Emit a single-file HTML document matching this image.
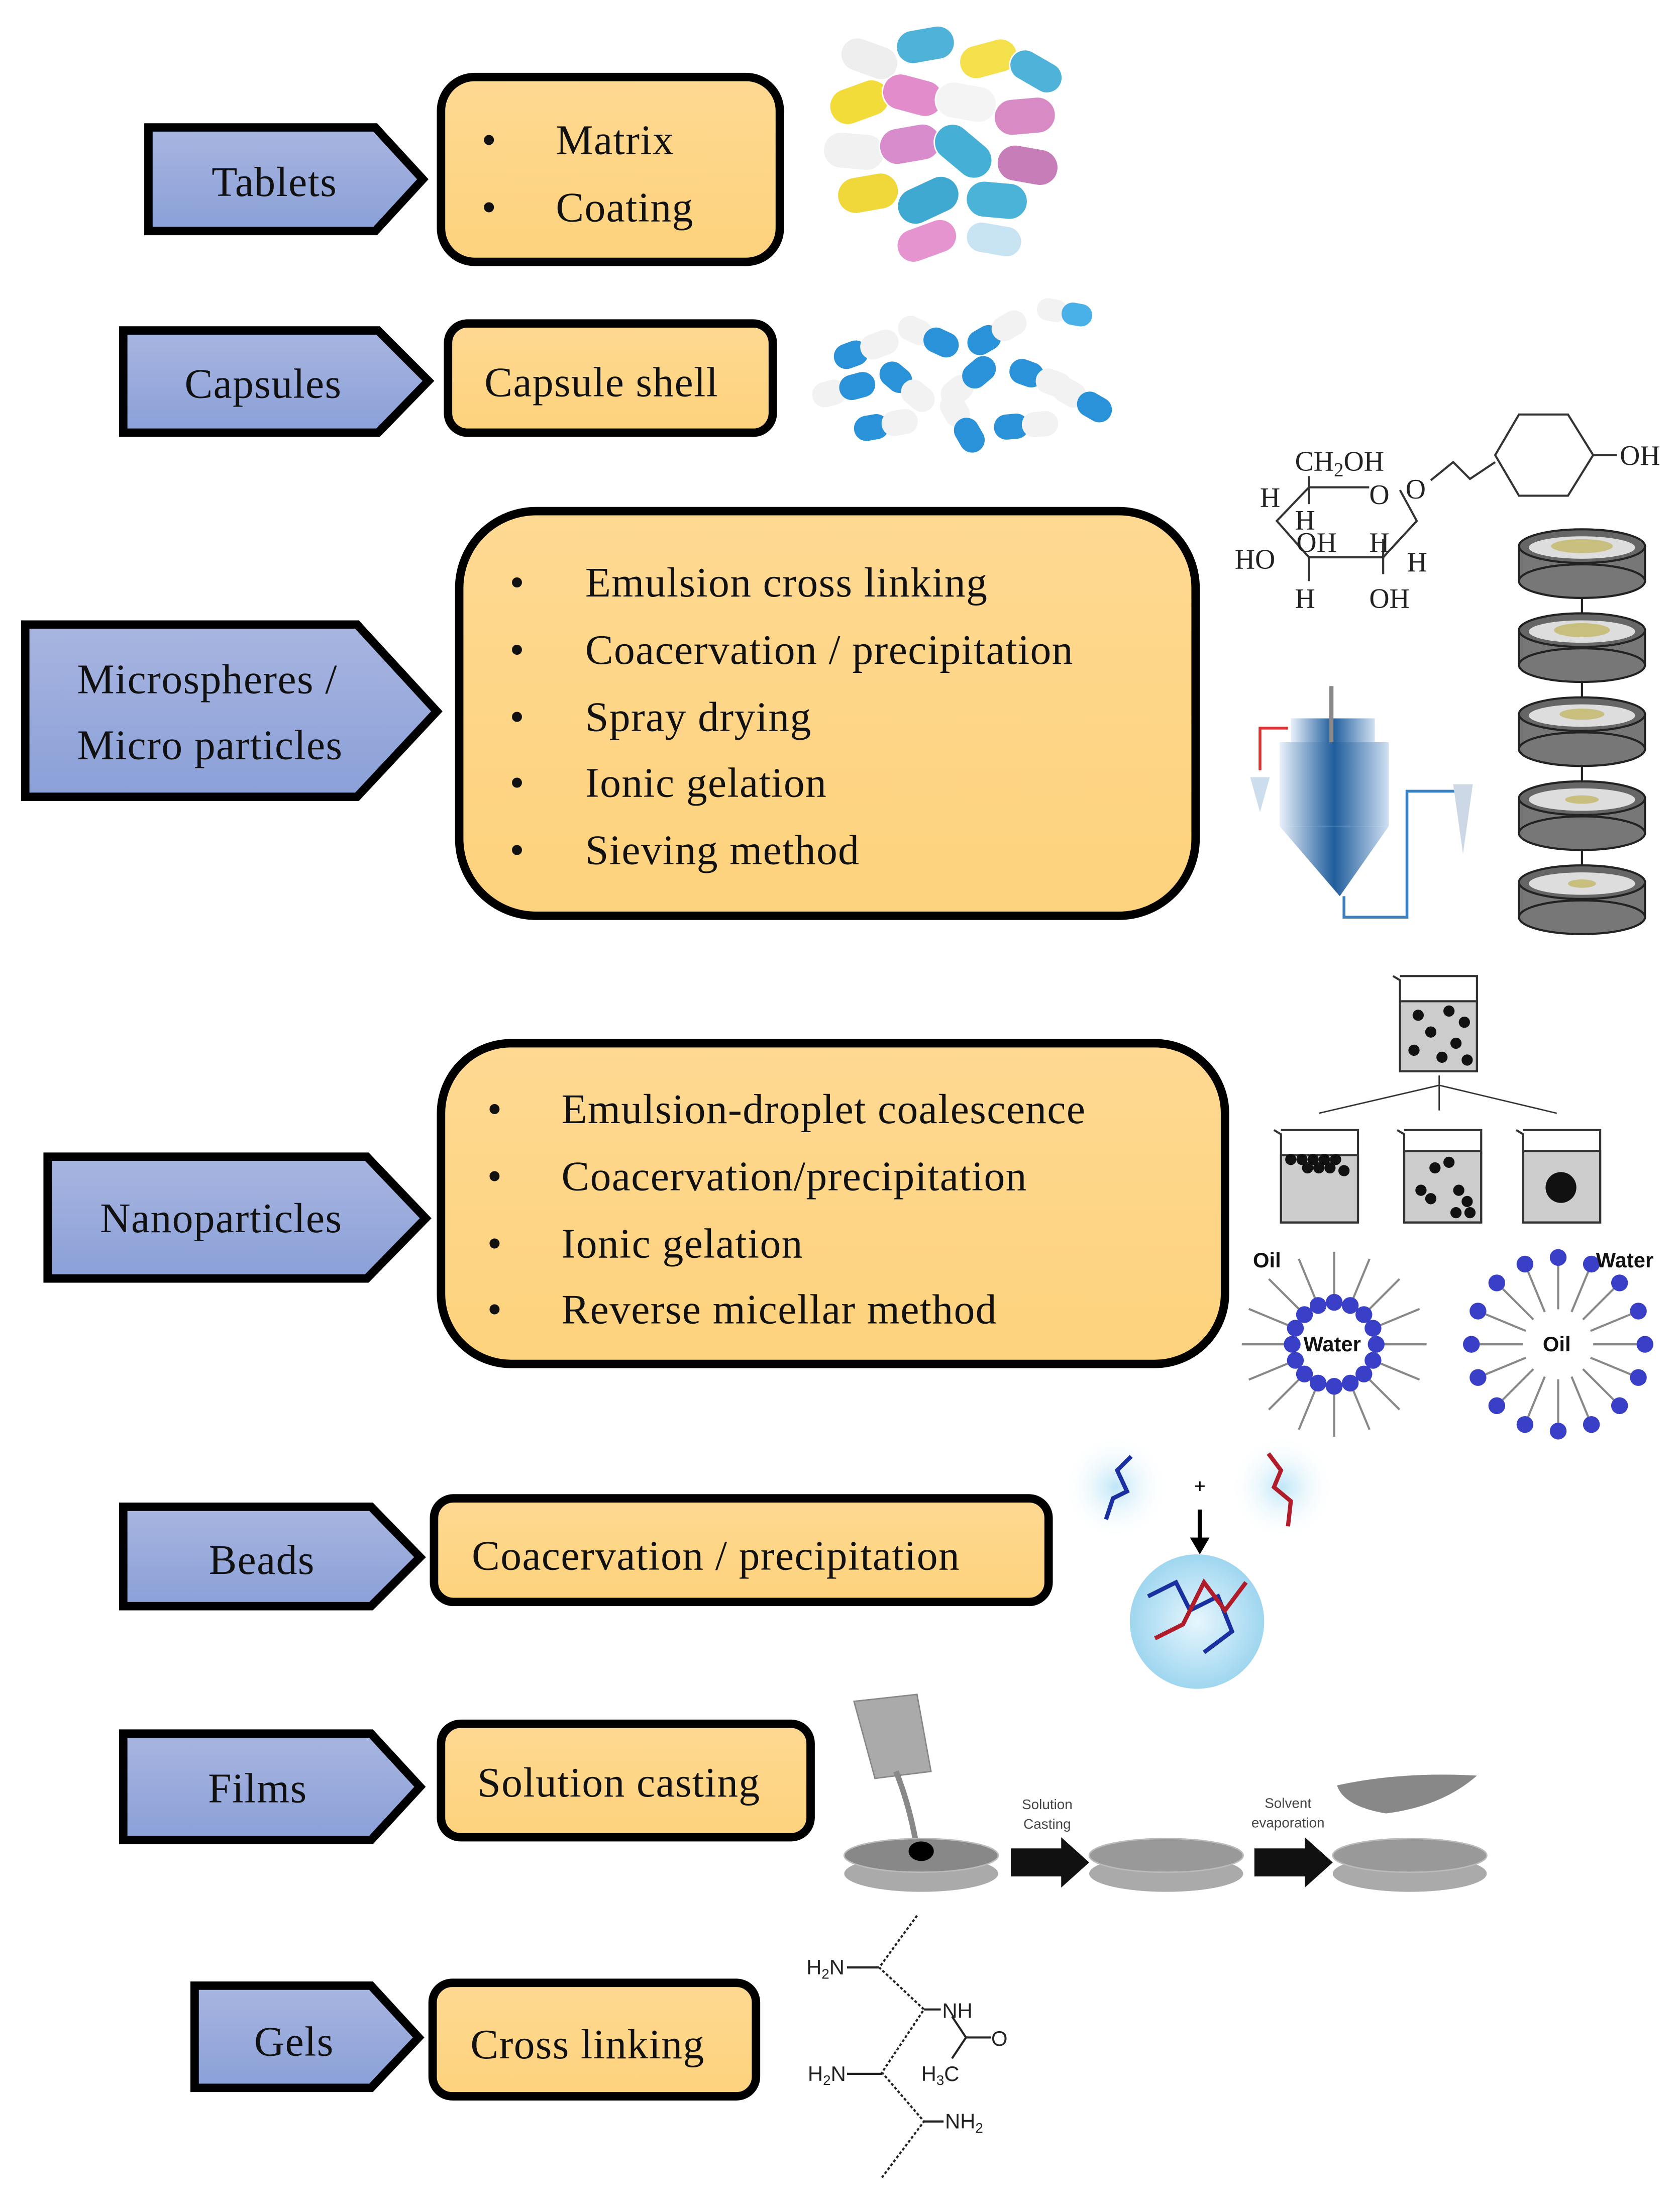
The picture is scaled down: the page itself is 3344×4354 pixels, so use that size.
<!DOCTYPE html>
<html><head><meta charset="utf-8"><style>
html,body{margin:0;padding:0;background:#fff}
svg{display:block}
.t{font-family:"Liberation Serif",serif;font-size:30px;letter-spacing:0.5px;fill:#111}
.s{font-family:"Liberation Sans",sans-serif}
</style></head><body>
<svg width="3344" height="4354" viewBox="0 0 1200 1562.5" xmlns="http://www.w3.org/2000/svg">
<defs>
<linearGradient id="bl" x1="0" y1="0" x2="0" y2="1"><stop offset="0" stop-color="#a8b5e0"/><stop offset="1" stop-color="#8aa0d8"/></linearGradient>
<linearGradient id="or" x1="0" y1="0" x2="0" y2="1"><stop offset="0" stop-color="#fed992"/><stop offset="1" stop-color="#fdd27c"/></linearGradient>
<linearGradient id="cone" x1="0" y1="0" x2="1" y2="0"><stop offset="0" stop-color="#e8f0fa"/><stop offset="0.5" stop-color="#1f5d9c"/><stop offset="1" stop-color="#d0e0f2"/></linearGradient>
<radialGradient id="glow"><stop offset="0" stop-color="#bfe6f7"/><stop offset="1" stop-color="#fff" stop-opacity="0"/></radialGradient>
<radialGradient id="ball"><stop offset="0" stop-color="#e6f6fd"/><stop offset="1" stop-color="#9fd6f0"/></radialGradient>
</defs>
<g stroke="#000" stroke-width="6" stroke-linejoin="miter">
<polygon fill="url(#bl)" points="106,91 268,91 302,128 268,165 106,165"/>
<polygon fill="url(#bl)" points="88,236 270,236 306,272 270,309 88,309"/>
<polygon fill="url(#bl)" points="18,446 255,446 312,508 255,569 18,569"/>
<polygon fill="url(#bl)" points="34,826 262,826 304,870 262,913 34,913"/>
<polygon fill="url(#bl)" points="88,1076 265,1076 300,1112 265,1147 88,1147"/>
<polygon fill="url(#bl)" points="88,1238 265,1238 300,1276 265,1314 88,1314"/>
<polygon fill="url(#bl)" points="139,1418 265,1418 299,1455 265,1491 139,1491"/>
<rect fill="url(#or)" x="315" y="55" width="242" height="132" rx="24"/>
<rect fill="url(#or)" x="320" y="231" width="232" height="78" rx="14"/>
<rect fill="url(#or)" x="328" y="365" width="526" height="289" rx="55"/>
<rect fill="url(#or)" x="315" y="745" width="560" height="229" rx="50"/>
<rect fill="url(#or)" x="310" y="1070" width="439" height="74" rx="14"/>
<rect fill="url(#or)" x="315" y="1231" width="264" height="81" rx="14"/>
<rect fill="url(#or)" x="309" y="1416" width="231" height="81" rx="14"/>
</g>
<g class="t">
<text x="196" y="140" text-anchor="middle">Tablets</text>
<text x="188" y="284" text-anchor="middle">Capsules</text>
<text x="55" y="495">Microspheres /</text>
<text x="55" y="542">Micro particles</text>
<text x="158" y="880" text-anchor="middle">Nanoparticles</text>
<text x="187" y="1124" text-anchor="middle">Beads</text>
<text x="184" y="1287" text-anchor="middle">Films</text>
<text x="210" y="1468" text-anchor="middle">Gels</text>

<text x="344" y="110">•</text><text x="397" y="110">Matrix</text>
<text x="344" y="158">•</text><text x="397" y="158">Coating</text>
<text x="346" y="283">Capsule shell</text>
<text x="364" y="426">•</text><text x="418" y="426">Emulsion cross linking</text>
<text x="364" y="474">•</text><text x="418" y="474">Coacervation / precipitation</text>
<text x="364" y="522">•</text><text x="418" y="522">Spray drying</text>
<text x="364" y="569">•</text><text x="418" y="569">Ionic gelation</text>
<text x="364" y="617">•</text><text x="418" y="617">Sieving method</text>
<text x="348" y="802">•</text><text x="401" y="802">Emulsion-droplet coalescence</text>
<text x="348" y="850">•</text><text x="401" y="850">Coacervation/precipitation</text>
<text x="348" y="898">•</text><text x="401" y="898">Ionic gelation</text>
<text x="348" y="945">•</text><text x="401" y="945">Reverse micellar method</text>
<text x="337" y="1121">Coacervation / precipitation</text>
<text x="341" y="1283">Solution casting</text>
<text x="336" y="1470">Cross linking</text>
</g>

<g stroke="#fff" stroke-width="1">
<rect x="600" y="30" width="42" height="24" rx="12" fill="#eee" transform="rotate(20 621 42)"/>
<rect x="640" y="20" width="42" height="24" rx="12" fill="#4fb3d9" transform="rotate(-10 661 32)"/>
<rect x="685" y="30" width="42" height="24" rx="12" fill="#f3e04a" transform="rotate(-15 706 42)"/>
<rect x="720" y="40" width="40" height="22" rx="11" fill="#4fb3d9" transform="rotate(30 740 51)"/>
<rect x="592" y="60" width="44" height="26" rx="13" fill="#f1dc3a" transform="rotate(-20 614 73)"/>
<rect x="630" y="55" width="44" height="26" rx="13" fill="#e28ccc" transform="rotate(15 652 68)"/>
<rect x="668" y="60" width="44" height="26" rx="13" fill="#f4f4f4" transform="rotate(10 690 73)"/>
<rect x="710" y="70" width="44" height="26" rx="13" fill="#d78ac4" transform="rotate(-5 732 83)"/>
<rect x="588" y="95" width="44" height="26" rx="13" fill="#f1f1f1" transform="rotate(5 610 108)"/>
<rect x="628" y="90" width="44" height="26" rx="13" fill="#d98ccc" transform="rotate(-10 650 103)"/>
<rect x="665" y="95" width="46" height="26" rx="13" fill="#45afd6" transform="rotate(40 688 108)"/>
<rect x="712" y="105" width="44" height="26" rx="13" fill="#c77db8" transform="rotate(10 734 118)"/>
<rect x="598" y="125" width="44" height="26" rx="13" fill="#f0d83a" transform="rotate(-10 620 138)"/>
<rect x="640" y="130" width="46" height="26" rx="13" fill="#3fa8d0" transform="rotate(-25 663 143)"/>
<rect x="690" y="130" width="44" height="26" rx="13" fill="#4bb2d8" transform="rotate(5 712 143)"/>
<rect x="640" y="160" width="44" height="24" rx="12" fill="#e594d0" transform="rotate(-20 662 172)"/>
<rect x="690" y="160" width="40" height="22" rx="11" fill="#c8e4f2" transform="rotate(10 710 171)"/>
</g>
<g>
<g transform="rotate(-20 620 250)"><rect x="595" y="240" width="25" height="18" rx="9" fill="#2a92d8"/><rect x="615" y="240" width="28" height="18" rx="9" fill="#f2f2f2"/></g>
<g transform="rotate(25 660 240)"><rect x="640" y="230" width="25" height="18" rx="9" fill="#f2f2f2"/><rect x="660" y="230" width="26" height="18" rx="9" fill="#2a92d8"/></g>
<g transform="rotate(-30 710 240)"><rect x="690" y="230" width="25" height="18" rx="9" fill="#2a92d8"/><rect x="710" y="230" width="26" height="18" rx="9" fill="#f2f2f2"/></g>
<g transform="rotate(10 760 225)"><rect x="740" y="215" width="22" height="16" rx="8" fill="#f2f2f2"/><rect x="758" y="215" width="22" height="16" rx="8" fill="#4ab0e8"/></g>
<g transform="rotate(-15 600 280)"><rect x="580" y="270" width="25" height="18" rx="9" fill="#f2f2f2"/><rect x="600" y="270" width="26" height="18" rx="9" fill="#2a92d8"/></g>
<g transform="rotate(40 645 275)"><rect x="625" y="265" width="25" height="18" rx="9" fill="#2a92d8"/><rect x="645" y="265" width="26" height="18" rx="9" fill="#f2f2f2"/></g>
<g transform="rotate(-40 690 275)"><rect x="670" y="265" width="25" height="18" rx="9" fill="#f2f2f2"/><rect x="690" y="265" width="26" height="18" rx="9" fill="#2a92d8"/></g>
<g transform="rotate(20 740 270)"><rect x="720" y="260" width="25" height="18" rx="9" fill="#2a92d8"/><rect x="740" y="260" width="26" height="18" rx="9" fill="#f2f2f2"/></g>
<g transform="rotate(30 770 285)"><rect x="750" y="275" width="25" height="18" rx="9" fill="#f2f2f2"/><rect x="770" y="275" width="26" height="18" rx="9" fill="#2a92d8"/></g>
<g transform="rotate(-10 630 305)"><rect x="610" y="295" width="25" height="18" rx="9" fill="#2a92d8"/><rect x="630" y="295" width="26" height="18" rx="9" fill="#f2f2f2"/></g>
<g transform="rotate(60 685 300)"><rect x="665" y="290" width="25" height="18" rx="9" fill="#f2f2f2"/><rect x="685" y="290" width="26" height="18" rx="9" fill="#2a92d8"/></g>
<g transform="rotate(-5 730 305)"><rect x="710" y="295" width="25" height="18" rx="9" fill="#2a92d8"/><rect x="730" y="295" width="26" height="18" rx="9" fill="#f2f2f2"/></g>
</g>

<g fill="none" stroke="#333" stroke-width="1.5">
<polyline points="935,348 978,348"/>
<polyline points="935,348 912,372 935,398 988,398 1012,372 1000,350"/>
<line x1="935" y1="340" x2="935" y2="360"/><line x1="988" y1="385" x2="988" y2="410"/>
<line x1="935" y1="398" x2="935" y2="415"/>
<polyline points="1022,343 1038,330 1050,342 1068,330"/>
<polygon points="1068,325 1085,296 1120,296 1138,325 1120,354 1085,354"/>
<line x1="1138" y1="325" x2="1155" y2="325"/>
</g>
<g style="font-family:'Liberation Serif',serif;font-size:20px;fill:#222">
<text x="925" y="336">CH<tspan font-size="14" dy="4">2</tspan><tspan dy="-4">OH</tspan></text>
<text x="900" y="362">H</text><text x="978" y="360">O</text><text x="1004" y="356">O</text>
<text x="925" y="378">H</text><text x="926" y="394">OH</text><text x="978" y="394">H</text><text x="1005" y="408">H</text>
<text x="882" y="406">HO</text><text x="925" y="434">H</text><text x="978" y="434">OH</text>
<text x="1157" y="332">OH</text>
</g>
<g stroke="#222" stroke-width="1.5">
<g><rect x="1085" y="390" width="90" height="25" fill="#777"/><ellipse cx="1130" cy="415" rx="45" ry="12" fill="#777"/><ellipse cx="1130" cy="390" rx="45" ry="12" fill="#666"/><ellipse cx="1130" cy="391" rx="38" ry="8" fill="#ddd" stroke="none"/></g>
<g><rect x="1085" y="450" width="90" height="25" fill="#777"/><ellipse cx="1130" cy="475" rx="45" ry="12" fill="#777"/><ellipse cx="1130" cy="450" rx="45" ry="12" fill="#666"/><ellipse cx="1130" cy="451" rx="38" ry="8" fill="#ddd" stroke="none"/></g>
<g><rect x="1085" y="510" width="90" height="25" fill="#777"/><ellipse cx="1130" cy="535" rx="45" ry="12" fill="#777"/><ellipse cx="1130" cy="510" rx="45" ry="12" fill="#666"/><ellipse cx="1130" cy="511" rx="38" ry="8" fill="#ddd" stroke="none"/></g>
<g><rect x="1085" y="570" width="90" height="25" fill="#777"/><ellipse cx="1130" cy="595" rx="45" ry="12" fill="#777"/><ellipse cx="1130" cy="570" rx="45" ry="12" fill="#666"/><ellipse cx="1130" cy="571" rx="38" ry="8" fill="#ddd" stroke="none"/></g>
<g><rect x="1085" y="630" width="90" height="25" fill="#777"/><ellipse cx="1130" cy="655" rx="45" ry="12" fill="#777"/><ellipse cx="1130" cy="630" rx="45" ry="12" fill="#666"/><ellipse cx="1130" cy="631" rx="38" ry="8" fill="#ddd" stroke="none"/></g>
<line x1="1130" y1="427" x2="1130" y2="438"/><line x1="1130" y1="487" x2="1130" y2="498"/><line x1="1130" y1="547" x2="1130" y2="558"/><line x1="1130" y1="607" x2="1130" y2="618"/>
</g>
<g fill="#c8bf7f"><ellipse cx="1130" cy="390" rx="22" ry="5"/><ellipse cx="1130" cy="450" rx="20" ry="5"/><ellipse cx="1130" cy="510" rx="16" ry="4"/><ellipse cx="1130" cy="571" rx="12" ry="3"/><ellipse cx="1130" cy="631" rx="10" ry="3"/></g>
<rect x="922" y="513" width="60" height="20" fill="url(#cone)"/>
<rect x="914" y="530" width="78" height="60" fill="url(#cone)"/>
<polygon points="914,590 992,590 957,640" fill="url(#cone)"/>
<line x1="951" y1="490" x2="951" y2="530" stroke="#888" stroke-width="3"/>
<polyline points="900,550 900,520 920,520" fill="none" stroke="#d33" stroke-width="2"/>
<polygon points="893,555 907,555 900,580" fill="#cde"/>
<polyline points="960,640 960,655 1005,655 1005,565 1040,565" fill="none" stroke="#3a7fc0" stroke-width="2"/>
<polygon points="1038,560 1052,560 1045,610" fill="#ccd8e6"/>
<g stroke="#333" stroke-width="1.5">
<rect x="1000" y="715" width="55" height="50" fill="#ccc"/><polyline points="995,697 1000,700 1000,765 1055,765 1055,697 1000,697" fill="none"/>
<rect x="915" y="825" width="55" height="48" fill="#ccc"/><polyline points="910,807 915,810 915,873 970,873 970,807 915,807" fill="none"/>
<rect x="1003" y="822" width="55" height="51" fill="#ccc"/><polyline points="998,807 1003,810 1003,873 1058,873 1058,807 1003,807" fill="none"/>
<rect x="1088" y="822" width="55" height="51" fill="#ccc"/><polyline points="1083,807 1088,810 1088,873 1143,873 1143,807 1088,807" fill="none"/>
<polyline points="942,795 1028,775 1112,795" fill="none" stroke-width="1"/><line x1="1028" y1="768" x2="1028" y2="793" stroke-width="1"/>
</g>
<g fill="#111">
<circle cx="1013" cy="725" r="4"/><circle cx="1035" cy="722" r="4"/><circle cx="1046" cy="730" r="4"/><circle cx="1022" cy="737" r="4"/><circle cx="1040" cy="745" r="4"/><circle cx="1010" cy="750" r="4"/><circle cx="1030" cy="755" r="4"/><circle cx="1048" cy="757" r="4"/>
<circle cx="922" cy="828" r="4"/><circle cx="930" cy="828" r="4"/><circle cx="938" cy="828" r="4"/><circle cx="946" cy="828" r="4"/><circle cx="954" cy="828" r="4"/><circle cx="934" cy="834" r="4"/><circle cx="942" cy="834" r="4"/><circle cx="950" cy="834" r="4"/><circle cx="960" cy="836" r="4"/>
<circle cx="1025" cy="834" r="4"/><circle cx="1035" cy="830" r="4"/><circle cx="1015" cy="850" r="4"/><circle cx="1022" cy="856" r="4"/><circle cx="1042" cy="850" r="4"/><circle cx="1048" cy="858" r="4"/><circle cx="1040" cy="866" r="4"/><circle cx="1050" cy="866" r="4"/>
<circle cx="1115" cy="848" r="11"/>
</g>
<g transform="translate(953,960)" stroke="#888" stroke-width="1.5" fill="#3a3fc8">
<g><line x1="34" y1="0" x2="66" y2="0"/><circle cx="30" r="6" stroke="none"/></g>
<g transform="rotate(22.5)"><line x1="34" y1="0" x2="66" y2="0"/><circle cx="30" r="6" stroke="none"/></g>
<g transform="rotate(45)"><line x1="34" y1="0" x2="66" y2="0"/><circle cx="30" r="6" stroke="none"/></g>
<g transform="rotate(67.5)"><line x1="34" y1="0" x2="66" y2="0"/><circle cx="30" r="6" stroke="none"/></g>
<g transform="rotate(90)"><line x1="34" y1="0" x2="66" y2="0"/><circle cx="30" r="6" stroke="none"/></g>
<g transform="rotate(112.5)"><line x1="34" y1="0" x2="66" y2="0"/><circle cx="30" r="6" stroke="none"/></g>
<g transform="rotate(135)"><line x1="34" y1="0" x2="66" y2="0"/><circle cx="30" r="6" stroke="none"/></g>
<g transform="rotate(157.5)"><line x1="34" y1="0" x2="66" y2="0"/><circle cx="30" r="6" stroke="none"/></g>
<g transform="rotate(180)"><line x1="34" y1="0" x2="66" y2="0"/><circle cx="30" r="6" stroke="none"/></g>
<g transform="rotate(202.5)"><line x1="34" y1="0" x2="66" y2="0"/><circle cx="30" r="6" stroke="none"/></g>
<g transform="rotate(225)"><line x1="34" y1="0" x2="66" y2="0"/><circle cx="30" r="6" stroke="none"/></g>
<g transform="rotate(247.5)"><line x1="34" y1="0" x2="66" y2="0"/><circle cx="30" r="6" stroke="none"/></g>
<g transform="rotate(270)"><line x1="34" y1="0" x2="66" y2="0"/><circle cx="30" r="6" stroke="none"/></g>
<g transform="rotate(292.5)"><line x1="34" y1="0" x2="66" y2="0"/><circle cx="30" r="6" stroke="none"/></g>
<g transform="rotate(315)"><line x1="34" y1="0" x2="66" y2="0"/><circle cx="30" r="6" stroke="none"/></g>
<g transform="rotate(337.5)"><line x1="34" y1="0" x2="66" y2="0"/><circle cx="30" r="6" stroke="none"/></g>
</g>
<g transform="translate(1113,960)" stroke="#888" stroke-width="1.5" fill="#3a3fc8">
<g><line x1="25" y1="0" x2="56" y2="0"/><circle cx="62" r="6" stroke="none"/></g>
<g transform="rotate(22.5)"><line x1="25" y1="0" x2="56" y2="0"/><circle cx="62" r="6" stroke="none"/></g>
<g transform="rotate(45)"><line x1="25" y1="0" x2="56" y2="0"/><circle cx="62" r="6" stroke="none"/></g>
<g transform="rotate(67.5)"><line x1="25" y1="0" x2="56" y2="0"/><circle cx="62" r="6" stroke="none"/></g>
<g transform="rotate(90)"><line x1="25" y1="0" x2="56" y2="0"/><circle cx="62" r="6" stroke="none"/></g>
<g transform="rotate(112.5)"><line x1="25" y1="0" x2="56" y2="0"/><circle cx="62" r="6" stroke="none"/></g>
<g transform="rotate(135)"><line x1="25" y1="0" x2="56" y2="0"/><circle cx="62" r="6" stroke="none"/></g>
<g transform="rotate(157.5)"><line x1="25" y1="0" x2="56" y2="0"/><circle cx="62" r="6" stroke="none"/></g>
<g transform="rotate(180)"><line x1="25" y1="0" x2="56" y2="0"/><circle cx="62" r="6" stroke="none"/></g>
<g transform="rotate(202.5)"><line x1="25" y1="0" x2="56" y2="0"/><circle cx="62" r="6" stroke="none"/></g>
<g transform="rotate(225)"><line x1="25" y1="0" x2="56" y2="0"/><circle cx="62" r="6" stroke="none"/></g>
<g transform="rotate(247.5)"><line x1="25" y1="0" x2="56" y2="0"/><circle cx="62" r="6" stroke="none"/></g>
<g transform="rotate(270)"><line x1="25" y1="0" x2="56" y2="0"/><circle cx="62" r="6" stroke="none"/></g>
<g transform="rotate(292.5)"><line x1="25" y1="0" x2="56" y2="0"/><circle cx="62" r="6" stroke="none"/></g>
<g transform="rotate(315)"><line x1="25" y1="0" x2="56" y2="0"/><circle cx="62" r="6" stroke="none"/></g>
<g transform="rotate(337.5)"><line x1="25" y1="0" x2="56" y2="0"/><circle cx="62" r="6" stroke="none"/></g>
</g>
<g class="s" font-weight="bold" font-size="15" fill="#111">
<text x="895" y="905">Oil</text><text x="931" y="965">Water</text>
<text x="1140" y="905">Water</text><text x="1102" y="965">Oil</text>
</g>
<circle cx="797" cy="1062" r="38" fill="url(#glow)"/>
<circle cx="916" cy="1062" r="38" fill="url(#glow)"/>
<polyline points="790,1085 795,1070 805,1065 798,1050 808,1040" fill="none" stroke="#1a2fa0" stroke-width="3"/>
<polyline points="906,1038 915,1050 910,1062 922,1072 920,1090" fill="none" stroke="#b01c2a" stroke-width="3"/>
<text x="853" y="1066" class="s" font-size="14">+</text>
<line x1="857" y1="1078" x2="857" y2="1100" stroke="#000" stroke-width="3"/><polygon points="850,1098 864,1098 857,1110" fill="#000"/>
<circle cx="855" cy="1158" r="48" fill="url(#ball)"/>
<polyline points="820,1140 840,1130 850,1150 870,1140 880,1165 860,1180" fill="none" stroke="#1a2fa0" stroke-width="3"/>
<polyline points="825,1170 845,1160 860,1130 875,1150 890,1130" fill="none" stroke="#b01c2a" stroke-width="3"/>
<g>
<path d="M610,1215 L655,1210 L665,1265 L625,1270 Z" fill="#aaa" stroke="#888"/>
<path d="M640,1265 Q650,1290 655,1320" fill="none" stroke="#888" stroke-width="4"/>
<ellipse cx="658" cy="1338" rx="55" ry="13" fill="#aaa"/><ellipse cx="658" cy="1325" rx="55" ry="12" fill="#888" stroke="#bbb"/>
<ellipse cx="658" cy="1322" rx="9" ry="7" fill="#000"/>
<ellipse cx="833" cy="1338" rx="55" ry="13" fill="#aaa"/><ellipse cx="833" cy="1325" rx="55" ry="12" fill="#999" stroke="#bbb"/>
<ellipse cx="1007" cy="1338" rx="55" ry="13" fill="#aaa"/><ellipse cx="1007" cy="1325" rx="55" ry="12" fill="#999" stroke="#bbb"/>
<polygon points="722,1320 758,1320 758,1312 778,1330 758,1348 758,1340 722,1340" fill="#111"/>
<polygon points="896,1320 932,1320 932,1312 952,1330 932,1348 932,1340 896,1340" fill="#111"/>
<path d="M955,1275 Q1000,1265 1055,1268 Q1030,1290 990,1295 Q960,1290 955,1275 Z" fill="#888"/>
<g class="s" font-size="10" fill="#444" text-anchor="middle"><text x="748" y="1292">Solution</text><text x="748" y="1306">Casting</text><text x="920" y="1291">Solvent</text><text x="920" y="1305">evaporation</text></g>
</g>
<g stroke="#222" stroke-width="1.5" fill="none">
<polyline points="655,1368 628,1405 660,1435 630,1480 660,1515 630,1555" stroke-dasharray="2 1.5"/>
<line x1="605" y1="1405" x2="628" y2="1405"/><line x1="660" y1="1435" x2="672" y2="1435"/>
<line x1="605" y1="1481" x2="630" y2="1481"/><line x1="660" y1="1515" x2="674" y2="1515"/>
<polyline points="680,1440 690,1455 680,1470"/><line x1="690" y1="1455" x2="708" y2="1455"/>
</g>
<g class="s" font-size="15" fill="#222">
<text x="576" y="1410">H<tspan font-size="10" dy="3">2</tspan><tspan dy="-3">N</tspan></text>
<text x="673" y="1441">NH</text><text x="708" y="1461">O</text>
<text x="577" y="1486">H<tspan font-size="10" dy="3">2</tspan><tspan dy="-3">N</tspan></text>
<text x="658" y="1486">H<tspan font-size="10" dy="3">3</tspan><tspan dy="-3">C</tspan></text>
<text x="675" y="1520">NH<tspan font-size="10" dy="3">2</tspan></text>
</g>
</svg>
</body></html>
